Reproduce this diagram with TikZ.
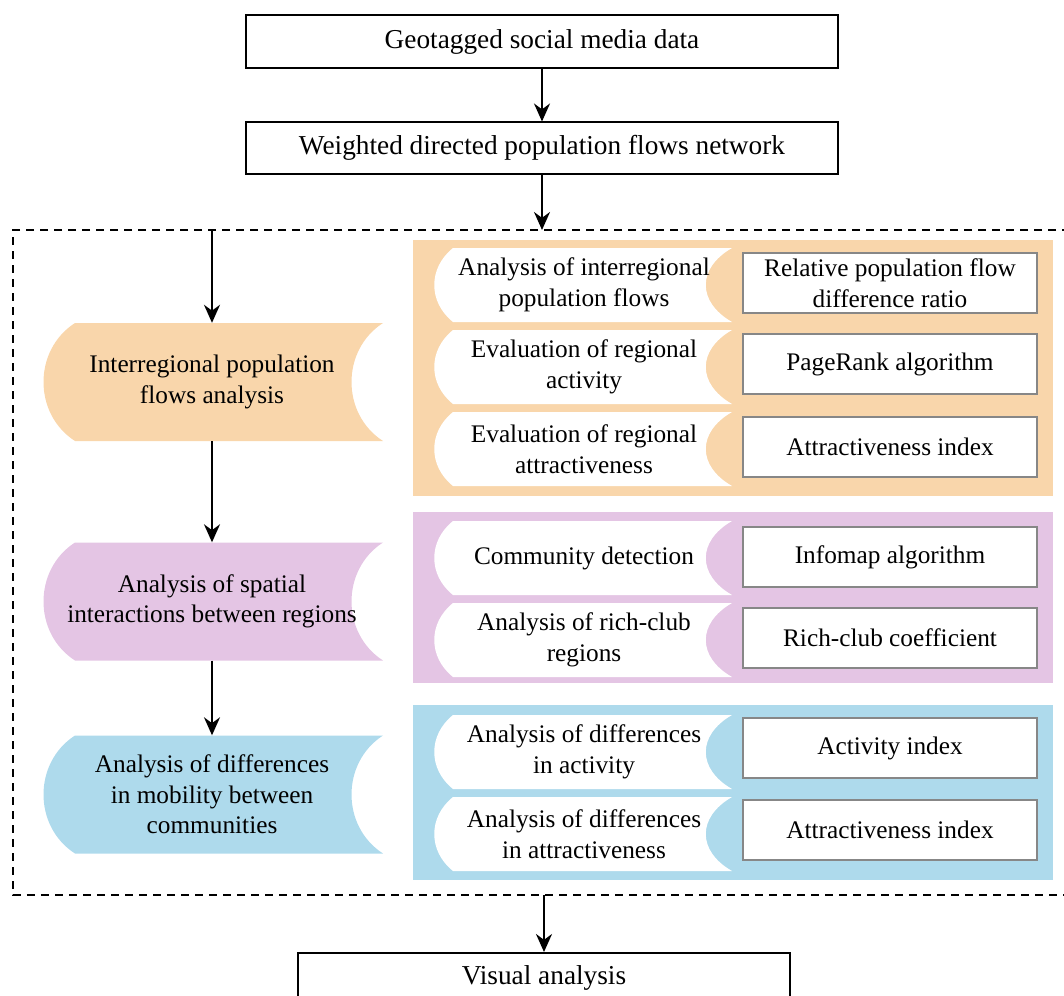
\documentclass[tikz,border=0pt]{standalone}
\usepackage{fontspec}
\setmainfont{Liberation Serif}
\usetikzlibrary{arrows.meta}

\definecolor{bandorange}{RGB}{249,214,171}
\definecolor{bandpurple}{RGB}{228,197,228}
\definecolor{bandblue}{RGB}{174,218,236}
\definecolor{boxgray}{RGB}{135,135,135}

\begin{document}
\begin{tikzpicture}[x=1pt, y=-1pt, >={Stealth[length=18pt, width=16pt]},
    mainbox/.style={draw, line width=2pt, minimum width=592pt, inner sep=0pt,
        font=\fontsize{27.3}{32}\selectfont},
    band/.style={minimum width=341pt, minimum height=118pt, inner sep=0pt, align=center,
        font=\fontsize{25.3}{30.5}\selectfont},
    steptext/.style={minimum width=280pt, minimum height=74pt, inner sep=0pt, align=center,
        font=\fontsize{25.3}{30.5}\selectfont},
    methodbox/.style={draw=boxgray, fill=white, line width=2pt, minimum width=294pt,
        minimum height=60pt, inner sep=0pt, align=center, font=\fontsize{25.3}{30.5}\selectfont},
    flow/.style={->, line width=2pt}]
    \useasboundingbox (0,0) rectangle (1064,995);
    \clip (0,0) rectangle (1064,995);

    % Input data and network
    \node[mainbox, minimum height=53pt] (geotag) at (542,41.5) {Geotagged social media data};
    \node[mainbox, minimum height=51pt] (network) at (542,148) {Weighted directed population flows network};
    \draw[flow] (geotag) -- (network);

    % Dashed frame round the analysis part
    \draw[line width=2pt, dash pattern=on 8pt off 6pt] (1070,230) -- (13,230) -- (13,895) -- (1070,895);
    \coordinate (framein) at (542,230);
    \coordinate (frameleft) at (212,230);
    \coordinate (frameout) at (544,895);
    \draw[flow] (network) -- (framein);

    % Coloured panels on the right
    \fill[bandorange] (413,240) rectangle (1053,496);
    \fill[bandpurple] (413,512) rectangle (1053,683);
    \fill[bandblue] (413,705) rectangle (1053,880);

    % Left bands (convex left side, concave right side)
    \foreach \yc/\col in {382/bandorange, 601.5/bandpurple, 794.5/bandblue}
        \fill[\col] (75,{\yc-59}) -- (383,{\yc-59})
            .. controls (341,{\yc-32}) and (341,{\yc+32}) .. (383,{\yc+59})
            -- (75,{\yc+59})
            .. controls (33,{\yc+32}) and (33,{\yc-32}) .. (75,{\yc-59}) -- cycle;

    % White step shapes inside the panels
    \foreach \yc in {285,367,449,558,640,752,834}
        \fill[white] (453,{\yc-37}) -- (732,{\yc-37})
            .. controls (697,{\yc-17}) and (697,{\yc+17}) .. (732,{\yc+37})
            -- (453,{\yc+37})
            .. controls (428,{\yc+17}) and (428,{\yc-17}) .. (453,{\yc-37}) -- cycle;

    % Analysis stages
    \node[band] (flows) at (212,382) {Interregional population\\flows analysis};
    \node[band] (spatial) at (212,601.5) {Analysis of spatial\\interactions between regions};
    \node[band] (mobility) at (212,794.5) {Analysis of differences\\in mobility between\\communities};
    \draw[flow] (frameleft) -- (flows);
    \draw[flow] (flows) -- (spatial);
    \draw[flow] (spatial) -- (mobility);

    % Interregional population flows
    \node[steptext] (interflow) at (584,285) {Analysis of interregional\\population flows};
    \node[steptext] (activity) at (584,367) {Evaluation of regional\\activity};
    \node[steptext] (attract) at (584,449) {Evaluation of regional\\attractiveness};
    \node[methodbox] (ratio) at (890,283) {Relative population flow\\difference ratio};
    \node[methodbox] (pagerank) at (890,364) {PageRank algorithm};
    \node[methodbox] (attrindex) at (890,447) {Attractiveness index};

    % Spatial interactions
    \node[steptext] (community) at (584,558) {Community detection};
    \node[steptext] (richclub) at (584,640) {Analysis of rich-club\\regions};
    \node[methodbox] (infomap) at (890,557) {Infomap algorithm};
    \node[methodbox] (richcoef) at (890,638) {Rich-club coefficient};

    % Differences between communities
    \node[steptext] (diffact) at (584,752) {Analysis of differences\\in activity};
    \node[steptext] (diffattr) at (584,834) {Analysis of differences\\in attractiveness};
    \node[methodbox] (actindex) at (890,748) {Activity index};
    \node[methodbox] (attrindextwo) at (890,830) {Attractiveness index};

    % Output
    \node[mainbox, minimum width=492pt, minimum height=50pt, anchor=north] (visual) at (544,952) {Visual analysis};
    \draw[flow] (frameout) -- (visual);
\end{tikzpicture}
\end{document}
